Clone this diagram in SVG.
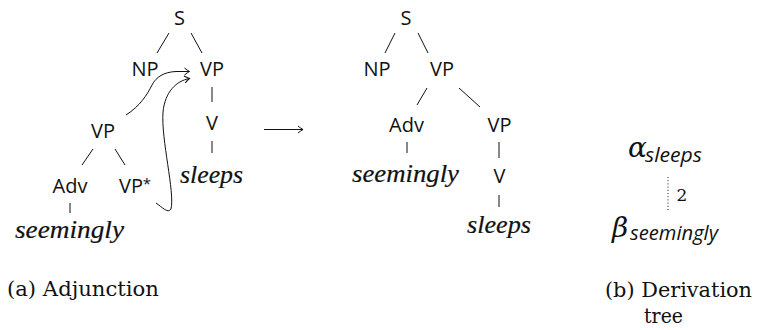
<svg xmlns="http://www.w3.org/2000/svg" width="758" height="330" viewBox="0 0 758 330">
<style>
.lab{font-family:"Open Sans","DejaVu Sans",sans-serif;font-size:20px;fill:#111;text-anchor:middle}
.word{font-family:"Liberation Serif","DejaVu Serif",serif;font-style:italic;font-size:25px;fill:#111;stroke:#111;stroke-width:0.2;text-anchor:middle}
.cap{font-family:"DejaVu Serif","Liberation Serif",serif;font-size:20.5px;fill:#111}
.math{font-family:"DejaVu Serif","Liberation Serif",serif;font-style:italic;font-size:28px;fill:#111}
.sub{font-family:"Open Sans","DejaVu Sans",sans-serif;font-style:italic;font-size:19.5px;fill:#111}
.e{stroke:#111;stroke-width:1;fill:none}
</style>
<defs>
<marker id="ah" markerUnits="userSpaceOnUse" markerWidth="12" markerHeight="12" viewBox="-6 -6 12 12" refX="0" refY="0" orient="auto">
<path d="M-5,-3.5 Q-2,-1 0,0 Q-2,1 -5,3.5" fill="none" stroke="#111" stroke-width="1"/>
</marker>
</defs>
<g id="connectors">
<line class="e" x1="169" y1="33" x2="157" y2="53"/>
<line class="e" x1="191" y1="33" x2="202" y2="53"/>
<line class="e" x1="212" y1="87" x2="212" y2="102"/>
<line class="e" x1="212" y1="141" x2="212" y2="153"/>
<line class="e" x1="93" y1="149" x2="82" y2="165"/>
<line class="e" x1="115" y1="149" x2="125" y2="165"/>
<line class="e" x1="70" y1="203" x2="70" y2="213"/>
<path class="e" d="M126,115 C140,106 147,95 152,85 C156,77 164,72 176,71.5 L189.5,71.5" marker-end="url(#ah)"/>
<path class="e" d="M156,203 C162,207 168,214 171,209 C175,192 161,140 163,112 C165,92 176,81 189.5,78.5" marker-end="url(#ah)"/>
<line class="e" x1="264" y1="129.5" x2="303" y2="129.5" marker-end="url(#ah)"/>
<line class="e" x1="395" y1="33" x2="385" y2="53"/>
<line class="e" x1="418" y1="33" x2="428" y2="53"/>
<line class="e" x1="427" y1="88" x2="417" y2="105"/>
<line class="e" x1="459" y1="88" x2="480" y2="107"/>
<line class="e" x1="407" y1="142" x2="407" y2="153"/>
<line class="e" x1="499" y1="142" x2="499" y2="158"/>
<line class="e" x1="499" y1="195" x2="499" y2="207"/>
<line class="e" x1="668" y1="177" x2="668" y2="210" stroke-dasharray="1 2.2"/>
</g>
<g id="t1-S"><text class="lab" x="179.5" y="25">S</text></g>
<g id="t1-NP"><text class="lab" x="145" y="76">NP</text></g>
<g id="t1-VP"><text class="lab" x="212" y="76">VP</text></g>
<g id="t1-V"><text class="lab" x="212" y="130">V</text></g>
<g id="t1-sleeps"><text class="word" x="211.5" y="183" textLength="63" lengthAdjust="spacingAndGlyphs">sleeps</text></g>
<g id="t1-VPa"><text class="lab" x="103" y="138">VP</text></g>
<g id="t1-Adv"><text class="lab" x="70" y="193">Adv</text></g>
<g id="t1-VPstar"><text class="lab" x="131" y="193">VP</text><text class="lab" x="147" y="189" style="font-size:15px">*</text></g>
<g id="t1-seemingly"><text class="word" x="69.5" y="238" textLength="109" lengthAdjust="spacingAndGlyphs">seemingly</text></g>
<g id="t2-S"><text class="lab" x="406" y="25">S</text></g>
<g id="t2-NP"><text class="lab" x="377" y="76">NP</text></g>
<g id="t2-VP"><text class="lab" x="442" y="76">VP</text></g>
<g id="t2-Adv"><text class="lab" x="406.5" y="132">Adv</text></g>
<g id="t2-VP2"><text class="lab" x="499.5" y="132">VP</text></g>
<g id="t2-seemingly"><text class="word" x="405.5" y="182" textLength="107" lengthAdjust="spacingAndGlyphs">seemingly</text></g>
<g id="t2-V"><text class="lab" x="499.5" y="183">V</text></g>
<g id="t2-sleeps"><text class="word" x="499" y="233" textLength="64" lengthAdjust="spacingAndGlyphs">sleeps</text></g>
<g id="d-alpha"><text class="math" x="628" y="157">α</text><text class="sub" x="645" y="162" textLength="57" lengthAdjust="spacingAndGlyphs">sleeps</text></g>
<g id="d-label"><text x="676.5" y="201" style="font-family:'DejaVu Serif','Liberation Serif',serif;font-size:17px;fill:#111">2</text></g>
<g id="d-beta"><text class="math" x="612" y="237">β</text><text class="sub" x="630" y="240" textLength="88" lengthAdjust="spacingAndGlyphs">seemingly</text></g>
<g id="caption-a"><text class="cap" x="7" y="296" textLength="152" lengthAdjust="spacingAndGlyphs">(a) Adjunction</text></g>
<g id="caption-b"><text class="cap" x="605" y="297" textLength="147" lengthAdjust="spacingAndGlyphs">(b) Derivation</text><text class="cap" x="644" y="323" textLength="39" lengthAdjust="spacingAndGlyphs">tree</text></g>
</svg>
